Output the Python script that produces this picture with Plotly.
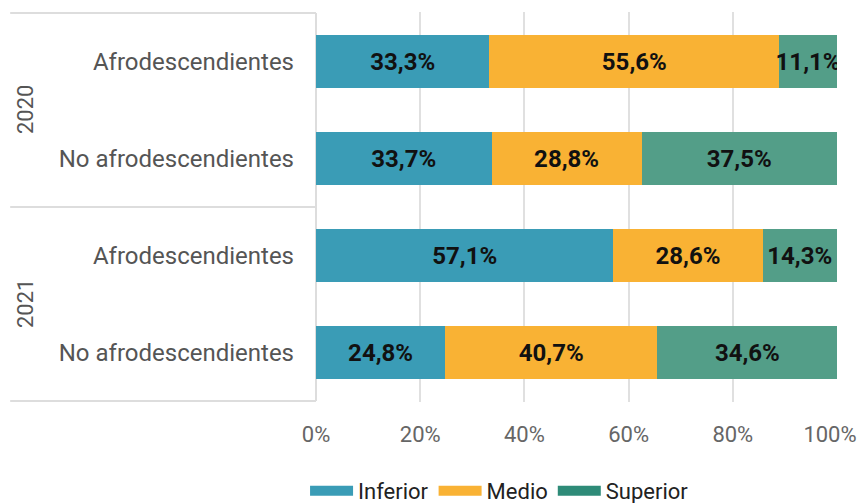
import plotly.graph_objects as go

years = ["2020", "2020", "2021", "2021"]
groups = ["Afrodescendientes", "No afrodescendientes", "Afrodescendientes", "No afrodescendientes"]
inferior = [33.3, 33.7, 57.1, 24.8]
medio = [55.6, 28.8, 28.6, 40.7]
superior = [11.1, 37.5, 14.3, 34.6]
x_ticks = [0, 20, 40, 60, 80, 100]
x_tick_labels = ["0%", "20%", "40%", "60%", "80%", "100%"]

series = [
    ("Inferior", inferior, "#3a9cb6", "#3a9cb6"),
    ("Medio", medio, "#f9b234", "#f9b234"),
    ("Superior", superior, "#539e88", "#2e8b78"),
]

cat_ids = [f"{y}|{g}" for y, g in zip(years, groups)]
FONT = "Roboto"

fig = go.Figure()
for name, vals, bar_col, leg_col in series:
    fig.add_trace(go.Bar(
        x=vals, y=cat_ids, orientation="h", name=name,
        marker=dict(color=bar_col, line=dict(width=0)),
        texttemplate="%{x:.1f}%", textposition="inside",
        insidetextanchor="middle", textangle=0, constraintext="none",
        textfont=dict(family=FONT, size=24, color="#111111", weight="bold"),
        showlegend=False, hoverinfo="skip",
    ))
    fig.add_trace(go.Scatter(
        x=[None], y=[None], mode="lines", name=name,
        line=dict(color=leg_col, width=11), hoverinfo="skip",
    ))

# invisible trace so the secondary x axis (last tick label) is drawn
fig.add_trace(go.Scatter(x=[None], y=[None], xaxis="x2", yaxis="y", mode="lines",
                         showlegend=False, hoverinfo="skip"))

# year group labels and dividers
unique_years = []
for y in years:
    if y not in unique_years:
        unique_years.append(y)
for yr in unique_years:
    idx = [i for i, y in enumerate(years) if y == yr]
    mid = (idx[0] + idx[-1]) / 2
    fig.add_annotation(x=-0.5585, xref="paper", y=mid, yref="y", text=yr,
                       textangle=-90, showarrow=False, xanchor="center", yanchor="middle",
                       font=dict(family=FONT, size=22, color="#555555"))
bounds = [-0.5] + [i + 0.5 for i in range(len(years) - 1) if years[i] != years[i + 1]] + [len(years) - 0.5]
for b in bounds:
    fig.add_shape(type="line", xref="paper", yref="y", x0=-0.587, x1=0, y0=b, y1=b,
                  line=dict(color="#dddddd", width=2), layer="below")
fig.add_shape(type="line", xref="paper", yref="y", x0=0, x1=0, y0=-0.5, y1=len(years) - 0.5,
              line=dict(color="#dddddd", width=2), layer="below")

tick_font = dict(family=FONT, size=22, color="#666666")
fig.update_layout(
    width=858, height=495,
    margin=dict(l=308, r=29, t=4, b=101, autoexpand=False),
    barmode="stack", bargap=0.455,
    separators=",.",
    paper_bgcolor="white", plot_bgcolor="white",
    font=dict(family=FONT, color="#555555"),
    xaxis=dict(range=[0, 100], tickvals=x_ticks, ticktext=x_tick_labels[:-1] + [""],
               showgrid=True, gridcolor="#e0e0e0", gridwidth=2,
               zeroline=False, showline=False, automargin=False,
               ticklabeloverflow="allow",
               tickfont=tick_font, ticklabelstandoff=17),
    xaxis2=dict(range=[0, 100], overlaying="x", anchor="y", side="bottom",
                tickvals=x_ticks[-1:], ticktext=x_tick_labels[-1:],
                showgrid=False, zeroline=False, showline=False, automargin=False,
                ticklabeloverflow="allow", ticklabelshift=-7,
                tickfont=tick_font, ticklabelstandoff=17),
    yaxis=dict(categoryorder="array", categoryarray=cat_ids, autorange="reversed",
               tickvals=cat_ids, ticktext=groups, showgrid=False, zeroline=False,
               showline=False, ticks="", automargin=False,
               tickfont=dict(family=FONT, size=24, color="#555555"),
               ticklabelstandoff=21),
    legend=dict(orientation="h", x=-0.021, xanchor="left", y=-0.174, yanchor="top",
                font=dict(family=FONT, size=22, color="#222222"),
                itemwidth=43, traceorder="normal"),
)

fig.write_html("out.html")
